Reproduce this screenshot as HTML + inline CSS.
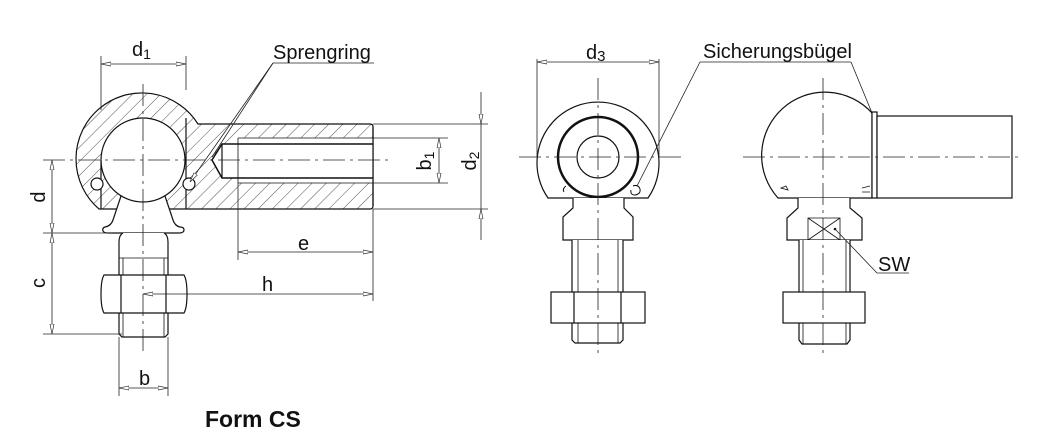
<!DOCTYPE html>
<html><head><meta charset="utf-8"><style>
html,body{margin:0;padding:0;background:#fff;}
svg{display:block;}
text{font-family:"Liberation Sans",sans-serif;fill:#111;}
</style></head><body>
<svg width="1047" height="447" viewBox="0 0 1047 447" xmlns="http://www.w3.org/2000/svg">
<defs>
<pattern id="h" patternUnits="userSpaceOnUse" width="10" height="10" patternTransform="rotate(45)">
<line x1="0" y1="0" x2="0" y2="10" stroke="#222" stroke-width="0.8"/>
</pattern>
<marker id="a" viewBox="0 0 10 6" refX="10" refY="3" markerWidth="10" markerHeight="6" orient="auto-start-reverse" markerUnits="userSpaceOnUse">
<path d="M0,1 L10,3 L0,5 Z" fill="#fff" stroke="#333" stroke-width="0.7"/>
</marker>
</defs>
<g fill="none" stroke="#111" stroke-width="1.2">
<path d="M99,209 A66,66 0 1,1 198,124 L370,124 Q373,124 373,127 L373,206 Q373,209 370,209 Z" fill="url(#h)"/>
<path d="M212,160 L222,144 L238,144 L238,138 L373,138 L373,183 L238,183 L238,178 L222,178 Z" fill="#fff" stroke="none"/>
<line x1="238" y1="138" x2="373" y2="138" stroke-width="0.8"/>
<line x1="238" y1="183" x2="373" y2="183" stroke-width="0.8"/>
<line x1="238" y1="138" x2="238" y2="183" stroke-width="0.8"/>
<path d="M373,144 L222,144 L212,160 L222,178 L373,178" stroke-width="1.5"/>
<line x1="222" y1="144" x2="222" y2="178"/>
<line x1="373" y1="127" x2="373" y2="206"/>
<path d="M121,196 L113,220 Q111,226 105,227 Q102,228 103,231 Q104,233 108,233 L179,233 Q184,233 184,230 Q184,227 180,227 Q175,226 173,220 L165,196 Z" fill="#fff"/>
<circle cx="143" cy="160" r="42" fill="#fff"/>
<path d="M123,233 Q119,235 119,242 L119,334 L122,337 L165,337 L168,334 L168,242 Q168,235 164,233" fill="#fff"/>
<line x1="123" y1="258" x2="123" y2="337" stroke-width="0.8"/>
<line x1="164" y1="258" x2="164" y2="337" stroke-width="0.8"/>
<line x1="119" y1="258" x2="168" y2="258" stroke-width="0.8"/>
<path d="M104,275 L184,275 Q187,280 187,294 Q187,308 184,313 L104,313 Q101,308 101,294 Q101,280 104,275 Z" fill="#fff"/>
<line x1="121" y1="275" x2="121" y2="313"/>
<line x1="166" y1="275" x2="166" y2="313"/>
<line x1="101" y1="160" x2="101" y2="209"/>
<line x1="186" y1="118" x2="186" y2="209"/>
<circle cx="97" cy="184" r="6" fill="#fff"/>
<circle cx="189" cy="184" r="6" fill="#fff"/>
</g>
<g fill="none" stroke="#222" stroke-width="0.8">
<line x1="143" y1="84" x2="143" y2="352" stroke-dasharray="22,5,3,5"/>
<line x1="43" y1="160" x2="390" y2="160" stroke-dasharray="22,5,3,5"/>
<line x1="101" y1="56" x2="101" y2="110"/><line x1="186" y1="56" x2="186" y2="90"/>
<line x1="101" y1="64" x2="186" y2="64" marker-start="url(#a)" marker-end="url(#a)"/>
<line x1="43" y1="233" x2="112" y2="233"/><line x1="43" y1="334" x2="122" y2="334"/>
<line x1="52" y1="160" x2="52" y2="233" marker-start="url(#a)" marker-end="url(#a)"/>
<line x1="52" y1="233" x2="52" y2="334" marker-start="url(#a)" marker-end="url(#a)"/>
<line x1="119" y1="337" x2="119" y2="396"/><line x1="168" y1="337" x2="168" y2="396"/>
<line x1="119" y1="388" x2="168" y2="388" marker-start="url(#a)" marker-end="url(#a)"/>
<line x1="238" y1="183" x2="238" y2="260"/><line x1="373" y1="209" x2="373" y2="301"/>
<line x1="238" y1="252" x2="373" y2="252" marker-start="url(#a)" marker-end="url(#a)"/>
<line x1="143" y1="294" x2="373" y2="294" marker-start="url(#a)" marker-end="url(#a)"/>
<line x1="373" y1="138" x2="448" y2="138"/><line x1="373" y1="183" x2="448" y2="183"/>
<line x1="439" y1="138" x2="439" y2="183" marker-start="url(#a)" marker-end="url(#a)"/>
<line x1="373" y1="124" x2="488" y2="124"/><line x1="373" y1="209" x2="488" y2="209"/>
<line x1="481" y1="92" x2="481" y2="124" marker-end="url(#a)"/>
<line x1="481" y1="240" x2="481" y2="209" marker-end="url(#a)"/>
<line x1="481" y1="124" x2="481" y2="209"/>
<line x1="273" y1="63" x2="374" y2="63"/>
<line x1="273" y1="63" x2="190" y2="182" marker-end="url(#a)"/>
<line x1="273" y1="63" x2="212" y2="157"/>
</g>
<g font-size="20">
<text x="132" y="56">d<tspan font-size="14" dy="3">1</tspan></text>
<text x="273" y="59">Sprengring</text>
<text x="298" y="250">e</text>
<text x="262" y="291">h</text>
<text x="139" y="385">b</text>
<text transform="translate(45,197) rotate(-90)" text-anchor="middle">d</text>
<text transform="translate(45,283) rotate(-90)" text-anchor="middle">c</text>
<text transform="translate(431,161) rotate(-90)" text-anchor="middle">b<tspan font-size="14" dy="3">1</tspan></text>
<text transform="translate(476,161) rotate(-90)" text-anchor="middle">d<tspan font-size="14" dy="3">2</tspan></text>
<text x="586" y="59">d<tspan font-size="15" dy="2">3</tspan></text>
<text x="703" y="58">Sicherungsbügel</text>
<text x="878" y="271">SW</text>
</g>
<text x="205" y="427" font-size="23" font-weight="bold">Form CS</text>

<g fill="none" stroke="#111" stroke-width="1.2">
<path d="M548,198 A61,61 0 1,1 648,198 Z" fill="#fff"/>
<circle cx="598" cy="157" r="40" stroke-width="2.5"/>
<circle cx="598" cy="157" r="21"/>
<path d="M566,186 q-4,3 -2,6 M633,186 q5,-2 7,3 q1,5 -5,6 q-5,0 -4,-5" stroke-width="1"/>
<path d="M573,198 L573,208 L563,217 L563,240 L633,240 L633,217 L624,208 L624,198" fill="#fff"/>
<path d="M572,240 L572,340 L575,343 L620,343 L623,340 L623,240" fill="#fff"/>
<line x1="578" y1="240" x2="578" y2="343" stroke-width="0.8"/>
<line x1="618" y1="240" x2="618" y2="343" stroke-width="0.8"/>
<rect x="551" y="292" width="94" height="31" fill="#fff"/>
<line x1="574" y1="292" x2="574" y2="323"/><line x1="621" y1="292" x2="621" y2="323"/>
</g>
<g fill="none" stroke="#222" stroke-width="0.8">
<line x1="598" y1="78" x2="598" y2="358" stroke-dasharray="22,5,3,5"/>
<line x1="519" y1="157" x2="681" y2="157" stroke-dasharray="22,5,3,5"/>
<line x1="537" y1="59" x2="537" y2="157"/><line x1="659" y1="59" x2="659" y2="157"/>
<line x1="537" y1="62" x2="659" y2="62" marker-start="url(#a)" marker-end="url(#a)"/>
<line x1="700" y1="62" x2="851" y2="62"/>
<line x1="700" y1="62" x2="637" y2="186"/>
<line x1="851" y1="62" x2="872" y2="113"/>
</g>

<g fill="none" stroke="#111" stroke-width="1.2">
<path d="M778,198 A60,60 0 0,1 872,113 L872,198 Z" fill="#fff"/>
<rect x="872" y="112" width="5" height="86" fill="#fff"/>
<rect x="877" y="116" width="135" height="82" fill="#fff"/>
<path d="M781,188 l5,-2 l2,4 z M862,188 l8,-2 M862,192 l8,0" stroke-width="0.8"/>
<path d="M798,198 L798,208 L787,218 L787,240 L862,240 L862,218 L850,208 L850,198" fill="#fff"/>
<path d="M808,218 L840,218 L840,240 L808,240 Z M808,218 L840,240 M840,218 L808,240" stroke-width="0.8"/>
<path d="M799,240 L799,340 L802,344 L847,344 L850,340 L850,240" fill="#fff"/>
<line x1="803" y1="240" x2="803" y2="344" stroke-width="0.8"/>
<line x1="846" y1="240" x2="846" y2="344" stroke-width="0.8"/>
<rect x="783" y="292" width="82" height="31" fill="#fff"/>
</g>
<g fill="none" stroke="#222" stroke-width="0.8">
<line x1="823" y1="78" x2="823" y2="358" stroke-dasharray="22,5,3,5"/>
<line x1="743" y1="157" x2="1022" y2="157" stroke-dasharray="22,5,3,5"/>
<line x1="835" y1="229" x2="877" y2="273"/>
<line x1="877" y1="273" x2="909" y2="273"/>
</g>
<circle cx="835" cy="229" r="1.3" fill="#111"/>
</svg>
</body></html>
